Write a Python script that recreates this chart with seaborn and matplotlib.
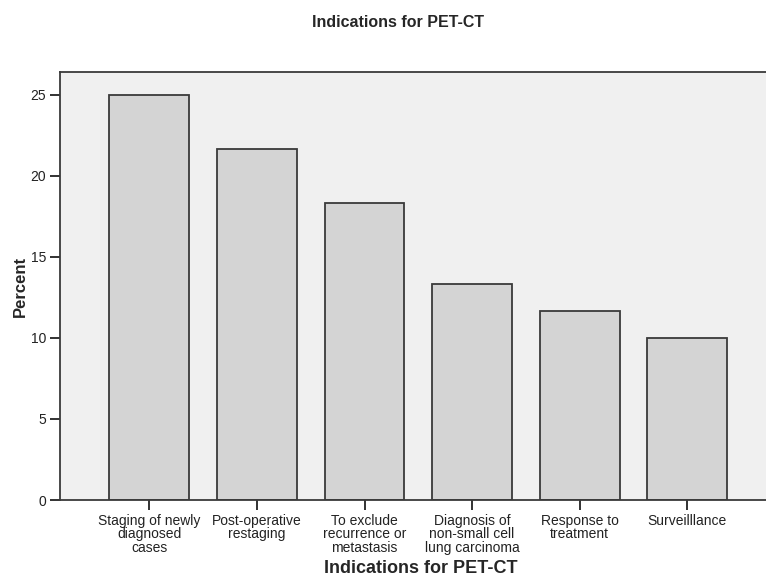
import pandas as pd
import matplotlib
matplotlib.use("Agg")
import matplotlib.pyplot as plt
import seaborn as sns

categories = ["Staging of newly\ndiagnosed\ncases", "Post-operative\nrestaging",
              "To exclude\nrecurrence or\nmetastasis", "Diagnosis of\nnon-small cell\nlung carcinoma",
              "Response to\ntreatment", "Surveilllance"]
percent = [25.0, 21.67, 18.33, 13.33, 11.67, 10.0]

df = pd.DataFrame({"indication": categories, "percent": percent})

sns.set_style("ticks")
plt.rcParams["font.family"] = ["Liberation Sans", "DejaVu Sans"]

fig = plt.figure(figsize=(7.66, 5.82), dpi=100)
ax = fig.add_axes([60 / 766, 1 - 500 / 582, 722 / 766, 428 / 582])
ax.set_facecolor("#f0f0f0")

sns.barplot(data=df, x="indication", y="percent", color="#d4d4d4",
            saturation=1, width=0.74, edgecolor="#3a3a3a", linewidth=1.3, ax=ax)

ax.set_xlim(-0.83, 5.88)
ax.set_ylim(0, 26.4)
ax.set_yticks([0, 5, 10, 15, 20, 25])
for s in ax.spines.values():
    s.set_color("#3a3a3a")
    s.set_linewidth(1.3)
ax.tick_params(axis="both", colors="#222222", labelsize=10, length=7, width=1.3, pad=3)
for lbl in ax.get_xticklabels():
    lbl.set_linespacing(0.95)
ax.set_xlabel("Indications for PET-CT", fontsize=13, fontweight="bold", labelpad=4)
ax.set_ylabel("Percent", fontsize=12, fontweight="bold", labelpad=2)
fig.suptitle("Indications for PET-CT", fontsize=11.5, fontweight="bold", x=0.52, y=0.975)

fig.savefig("out.png", dpi=100)
